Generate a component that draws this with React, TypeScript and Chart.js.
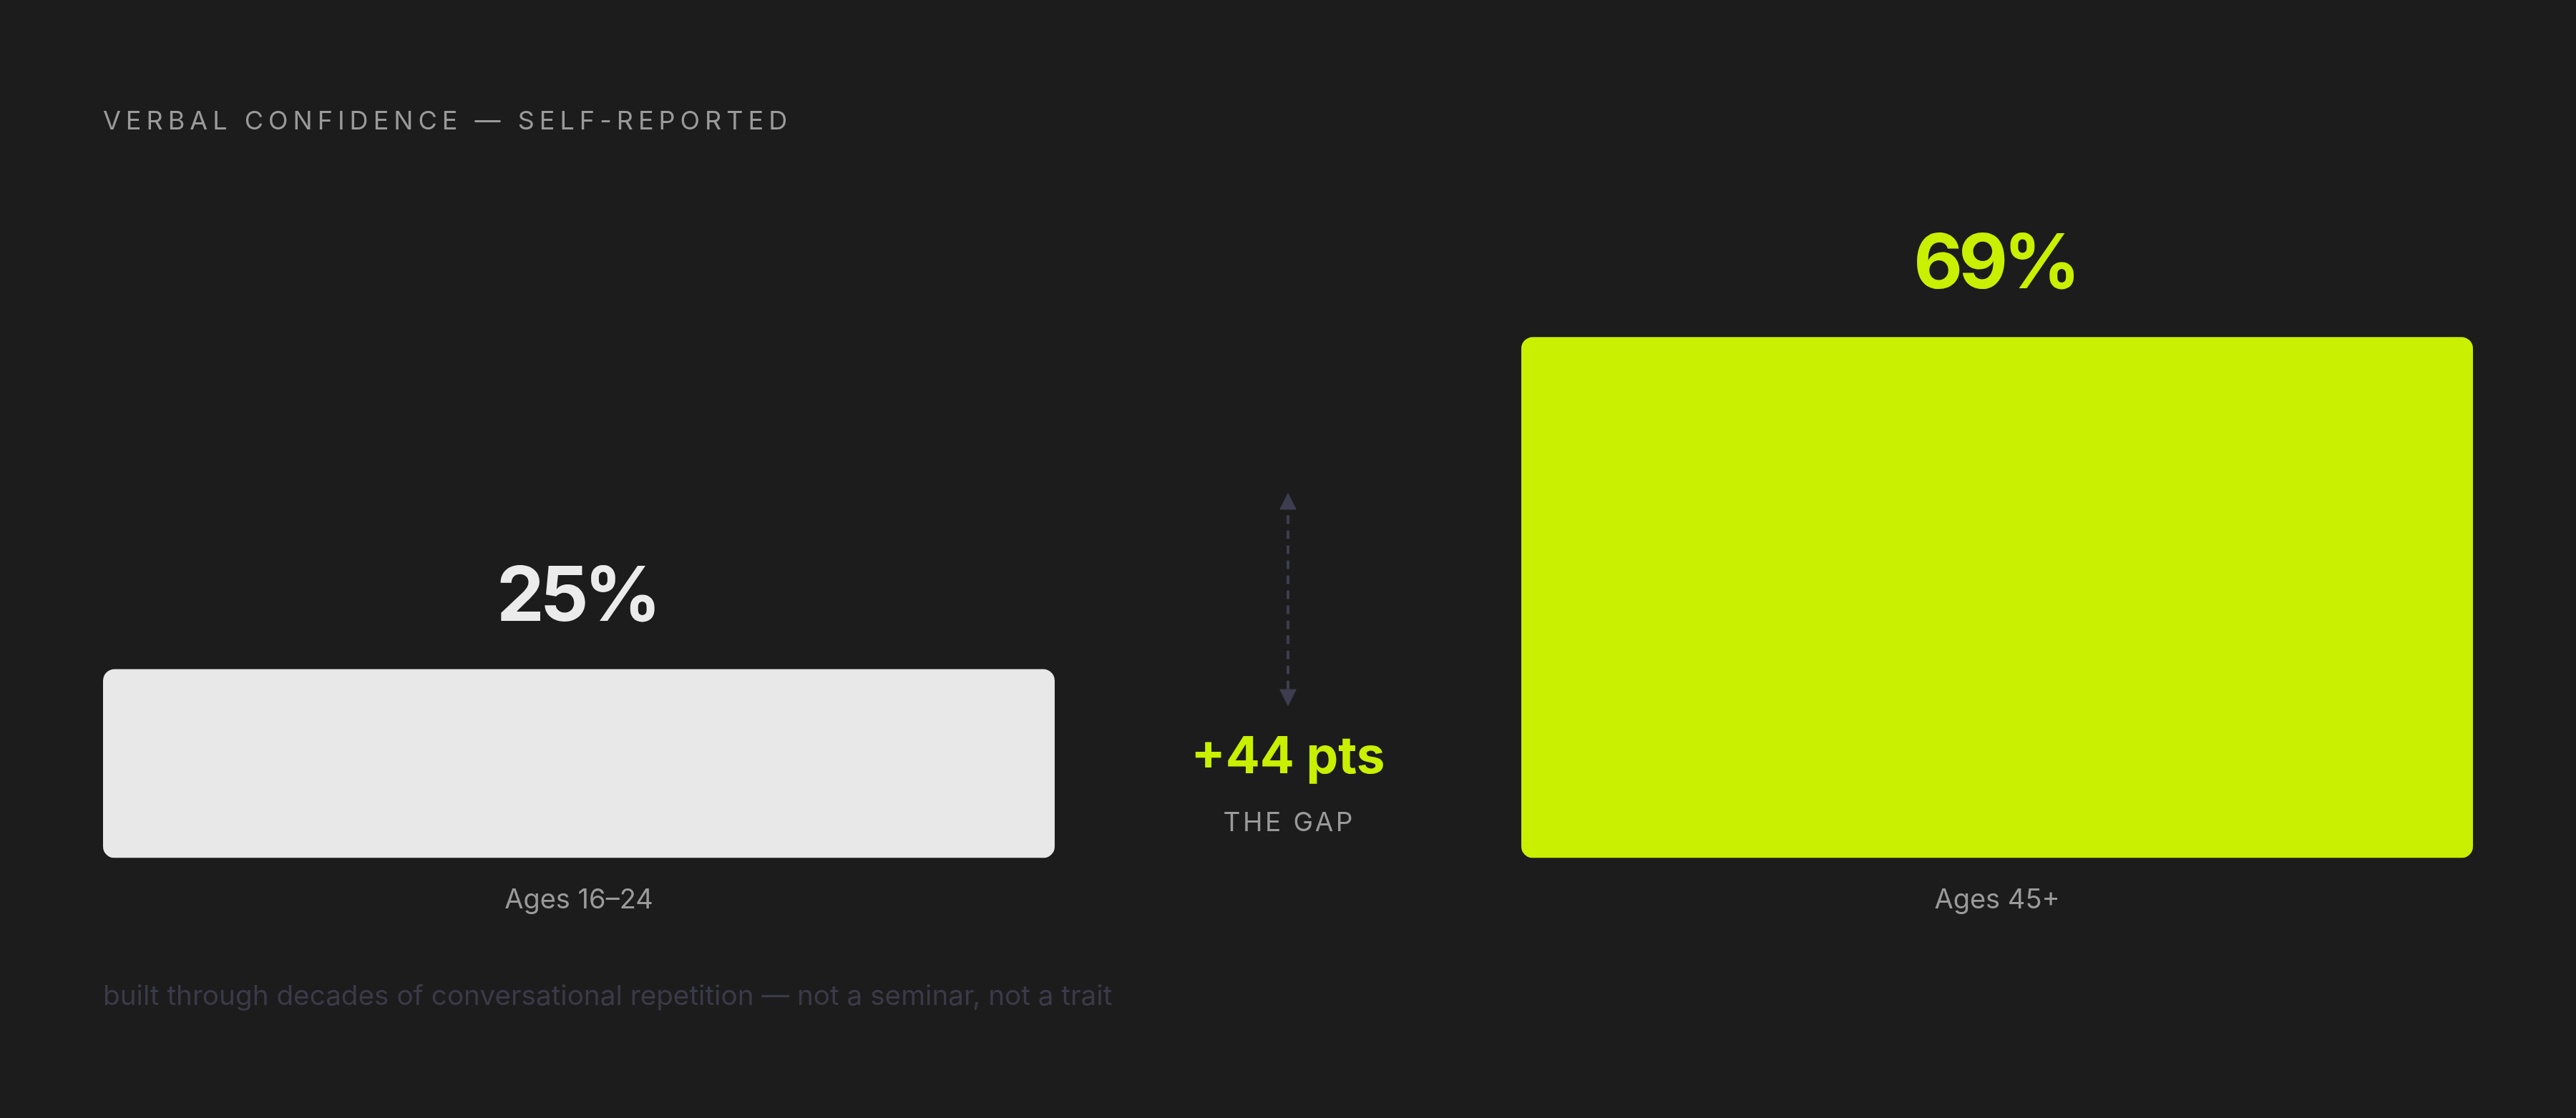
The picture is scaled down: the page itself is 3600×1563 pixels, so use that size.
import { useEffect, useRef } from 'react'
import { Chart, BarController, BarElement, LinearScale } from 'chart.js'
import type { Plugin } from 'chart.js'

Chart.register(BarController, BarElement, LinearScale)

const categories = ['Ages 16–24', 'Ages 45+']
const confidence = [25, 69]
const barColors = ['#e8e8e8', '#c8f000']
const valueColors = ['#ebebeb', '#c8f000']
const heading = 'VERBAL CONFIDENCE — SELF-REPORTED'
const footnote = 'built through decades of conversational repetition — not a seminar, not a trait'
const gapCaption = 'THE GAP'

const FONT = 'Inter, "DejaVu Sans", sans-serif'
const LIME = '#c8f000'
const MUTED = '#9a9a9a'
const ARROW = '#3d3d4f'

// value labels above the bars + the gap marker between them
const labelsPlugin: Plugin<'bar'> = {
  id: 'barLabels',
  afterDatasetsDraw(chart) {
    const ctx = chart.ctx as CanvasRenderingContext2D & { letterSpacing: string }
    const bars = chart.getDatasetMeta(0).data
    const bottom = chart.chartArea.bottom
    ctx.save()
    ctx.textAlign = 'center'
    ctx.textBaseline = 'alphabetic'
    ctx.font = `700 106px ${FONT}`
    ctx.letterSpacing = '-6px'
    bars.forEach((bar, i) => {
      ctx.fillStyle = valueColors[i]
      ctx.fillText(`${confidence[i]}%`, bar.x - 3, bar.y - 68)
    })
    ctx.letterSpacing = '0px'

    const cx = (bars[0].x + bars[1].x) / 2
    const top = bottom - 511
    const tip = bottom - 212
    const head = 24
    ctx.fillStyle = ARROW
    ctx.beginPath()
    ctx.moveTo(cx, top)
    ctx.lineTo(cx - 12, top + head)
    ctx.lineTo(cx + 12, top + head)
    ctx.closePath()
    ctx.fill()
    ctx.beginPath()
    ctx.moveTo(cx, tip)
    ctx.lineTo(cx - 12, tip - head)
    ctx.lineTo(cx + 12, tip - head)
    ctx.closePath()
    ctx.fill()
    ctx.strokeStyle = ARROW
    ctx.lineWidth = 4
    ctx.setLineDash([12, 9])
    ctx.beginPath()
    ctx.moveTo(cx, top + head + 8)
    ctx.lineTo(cx, tip - head)
    ctx.stroke()
    ctx.setLineDash([])

    const gap = confidence[1] - confidence[0]
    ctx.fillStyle = LIME
    ctx.font = `700 71px ${FONT}`
    ctx.fillText(`+${gap} pts`, cx, bottom - 118)
    ctx.fillStyle = MUTED
    ctx.font = `400 37px ${FONT}`
    ctx.letterSpacing = '3.5px'
    ctx.fillText(gapCaption, cx + 1.75, bottom - 37)
    ctx.restore()
  },
}

function GapChart() {
  const canvasRef = useRef<HTMLCanvasElement>(null)

  useEffect(() => {
    if (!canvasRef.current) return
    const chart = new Chart(canvasRef.current, {
      type: 'bar',
      data: {
        datasets: [{
          data: confidence.map((v, i) => ({ x: i, y: v })),
          backgroundColor: barColors,
          borderRadius: 16,
          borderSkipped: false,
          categoryPercentage: 1,
          barPercentage: 0.671,
        }],
      },
      options: {
        animation: false,
        responsive: false,
        devicePixelRatio: 1,
        layout: { padding: { left: 144, right: 144, top: 144, bottom: 254 } },
        scales: {
          x: {
            type: 'linear',
            min: -0.3355,
            max: 1.3355,
            offset: false,
            grid: { display: false, offset: false },
            border: { display: false },
            afterBuildTicks: (axis) => {
              axis.ticks = categories.map((_, i) => ({ value: i }))
            },
            ticks: {
              callback: (v) => categories[Number(v)] ?? '',
              color: MUTED,
              font: { family: FONT, size: 38 },
              padding: 28,
              autoSkip: false,
              maxRotation: 0,
            },
          },
          y: { display: false, min: 0, max: 100 },
        },
        plugins: {
          legend: { display: false },
          tooltip: { enabled: false },
        },
      },
      plugins: [labelsPlugin],
    })
    return () => chart.destroy()
  }, [])

  return <canvas ref={canvasRef} width={3600} height={1563} style={{ position: 'absolute', left: 0, top: 0 }} />
}

export default function App() {
  return (
    <div style={{ position: 'fixed', inset: 0, background: '#1c1c1c', overflow: 'hidden', fontFamily: FONT }}>
      <GapChart />
      <div style={{ position: 'absolute', left: 144, top: 150, fontSize: 36, lineHeight: 1, letterSpacing: '0.195em', color: MUTED, whiteSpace: 'nowrap' }}>
        {heading}
      </div>
      <div style={{ position: 'absolute', left: 144, top: 1372, fontSize: 38.7, lineHeight: 1, color: '#3b3a48', whiteSpace: 'nowrap' }}>
        {footnote}
      </div>
    </div>
  )
}
